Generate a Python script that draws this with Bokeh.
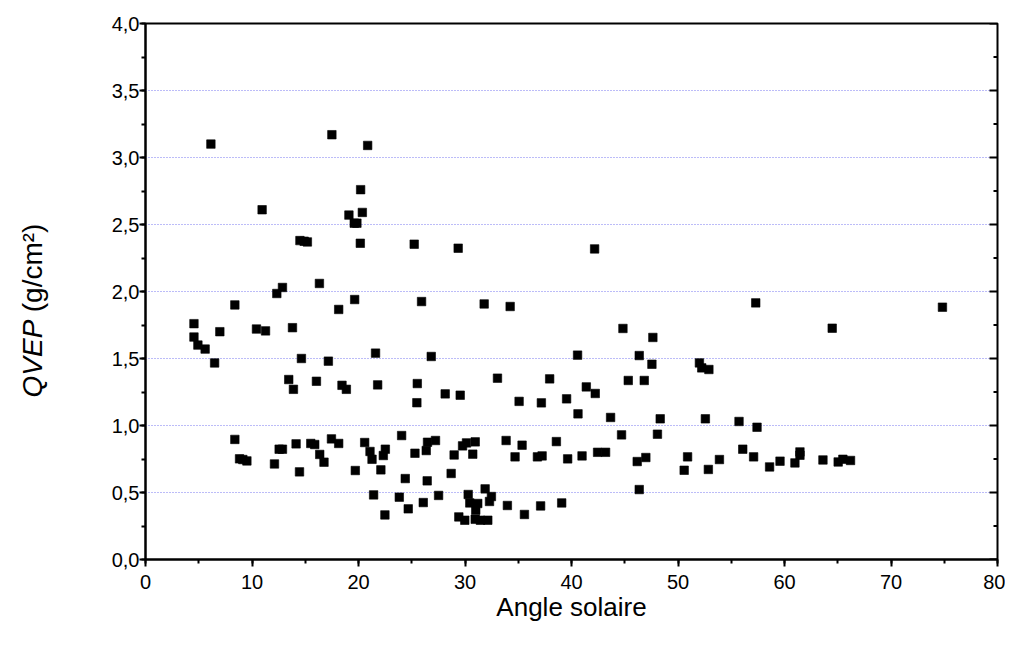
import math
from bokeh.plotting import figure
from bokeh.layouts import row
from bokeh.models import SingleIntervalTicker, CustomJSTickFormatter, ColumnDataSource
from bokeh.core.properties import value
from bokeh.embed import file_html
from bokeh.resources import INLINE

# Angle solaire (degrees)
angle = [
    6.14, 17.5, 20.86, 20.2, 10.95, 19.1, 20.36, 19.6, 19.85, 14.5, 14.9, 15.2, 20.17,
    16.33, 12.86, 12.33, 8.39, 19.64, 18.14, 4.55, 6.98, 10.42, 11.27, 13.8, 4.55,
    4.92, 5.6, 6.49, 14.64, 17.17, 13.45, 13.89, 16.05, 18.45, 18.86, 8.39, 8.83, 9.14,
    9.52, 12.11, 12.55, 12.86, 14.14, 15.52, 15.89, 17.46, 18.14, 16.36, 16.76, 14.46,
    19.7, 20.58,
    25.23, 29.36, 25.92, 31.8, 34.24,
    21.6, 26.83, 40.57, 21.8, 25.52, 25.48, 28.14, 29.55, 33.05, 37.95, 41.39, 35.08,
    37.17, 39.54, 40.61, 21.08, 21.27, 22.52, 22.33, 22.1, 24.05, 25.3, 26.48, 27.23,
    26.36, 24.39, 26.45, 28.7, 28.98, 29.77, 30.14, 30.96, 30.73, 33.86, 35.36, 34.7,
    36.8, 37.24, 38.58, 39.64, 40.99, 21.42, 22.48, 23.83, 24.67, 26.08, 27.52, 30.3,
    31.89, 32.48, 32.3, 30.45, 31.2, 31.01, 29.42, 29.98, 30.96, 31.45, 32.14, 33.98,
    35.58, 37.1, 39.08,
    42.17, 57.3, 74.83, 64.48, 44.83, 47.64, 46.36, 47.55, 45.33, 46.83, 52.01, 52.23,
    52.9, 42.23,
    43.67, 48.33, 52.57, 55.73, 57.42, 44.7, 48.07, 42.45, 43.2, 46.17, 46.98, 46.36,
    50.58, 50.9, 52.85, 53.89, 56.08, 57.1, 58.6, 59.58, 60.98, 61.45, 61.45, 63.61,
    65.04, 65.48, 66.2,
]

# QVEP (g/cm2)
qvep = [
    3.10, 3.17, 3.09, 2.76, 2.61, 2.57, 2.59, 2.51, 2.51, 2.38, 2.375, 2.37, 2.36,
    2.06, 2.03, 1.985, 1.90, 1.94, 1.866, 1.76, 1.70, 1.72, 1.706, 1.73, 1.66,
    1.60, 1.57, 1.467, 1.50, 1.48, 1.343, 1.27, 1.33, 1.30, 1.27, 0.896, 0.751, 0.746,
    0.736, 0.713, 0.823, 0.823, 0.863, 0.866, 0.858, 0.90, 0.866, 0.784, 0.726, 0.654,
    0.664, 0.873,
    2.353, 2.323, 1.925, 1.907, 1.888,
    1.54, 1.515, 1.525, 1.303, 1.313, 1.17, 1.236, 1.226, 1.353, 1.348, 1.288, 1.18,
    1.169, 1.199, 1.087, 0.806, 0.748, 0.823, 0.776, 0.669, 0.925, 0.793, 0.875, 0.888,
    0.813, 0.604, 0.587, 0.642, 0.78, 0.848, 0.87, 0.878, 0.786, 0.888, 0.853, 0.766,
    0.766, 0.773, 0.88, 0.751, 0.773, 0.482, 0.333, 0.465, 0.378, 0.425, 0.478, 0.485,
    0.527, 0.47, 0.433, 0.422, 0.418, 0.368, 0.318, 0.293, 0.30, 0.293, 0.293, 0.403,
    0.336, 0.40, 0.422,
    2.318, 1.915, 1.883, 1.726, 1.724, 1.657, 1.522, 1.457, 1.336, 1.336, 1.467, 1.43,
    1.418, 1.239,
    1.06, 1.05, 1.05, 1.03, 0.987, 0.93, 0.935, 0.80, 0.80, 0.731, 0.761, 0.522,
    0.666, 0.766, 0.672, 0.746, 0.823, 0.766, 0.691, 0.734, 0.721, 0.803, 0.778, 0.743,
    0.728, 0.748, 0.739,
]

# y tick values (major with labels "0,0" ... "4,0", minor in between)
y_major_ticks = [0.0, 0.5, 1.0, 1.5, 2.0, 2.5, 3.0, 3.5, 4.0]
y_minor_ticks = [0.25, 0.75, 1.25, 1.75, 2.25, 2.75, 3.25, 3.75]

x_label = "Angle solaire"
y_label_italic = "QVEP"
y_label_rest = "(g/cm\u00b2)"

FONT = "Liberation Sans"
TOP, FH, BOT = 23, 536, 88
LAB_W = 60
X_END = 80

# ---- main plot ----
p = figure(frame_width=852, frame_height=FH, x_range=(0, X_END), y_range=(0, 4),
           output_backend="svg", toolbar_location=None, title=None,
           min_border_left=145 - LAB_W, min_border_right=8, min_border_top=TOP,
           min_border_bottom=BOT)

p.outline_line_color = "black"
p.outline_line_width = 2
p.background_fill_color = "white"
p.border_fill_color = "white"

xt = SingleIntervalTicker(interval=10, num_minor_ticks=2)
yt = SingleIntervalTicker(interval=0.5, num_minor_ticks=2)

p.xaxis.ticker = xt
p.yaxis.ticker = yt
p.yaxis.formatter = CustomJSTickFormatter(code="return tick.toFixed(1).replace('.', ',');")

for ax in (p.xaxis[0], p.yaxis[0]):
    ax.axis_line_width = 2
    ax.axis_line_color = "black"
    ax.major_tick_line_width = 2
    ax.minor_tick_line_width = 2
    ax.major_tick_out = 6
    ax.major_tick_in = 0
    ax.minor_tick_out = 4
    ax.minor_tick_in = 0
    ax.major_label_text_font = FONT
    ax.major_label_text_font_size = "20px"
    ax.major_label_text_color = "black"

p.xaxis.major_tick_out = 7
p.yaxis.major_label_standoff = 0
p.xaxis.major_label_standoff = 8
p.xaxis.axis_label = x_label
p.xaxis.axis_label_text_font = FONT
p.xaxis.axis_label_text_font_size = "26px"
p.xaxis.axis_label_text_font_style = "normal"
p.xaxis.axis_label_text_color = "black"
p.xaxis.axis_label_standoff = 0

p.xgrid.visible = False
p.ygrid.ticker = yt
p.ygrid.grid_line_color = "#7878f0"
p.ygrid.grid_line_dash = "1 2"
p.ygrid.grid_line_width = 1

# inward ticks on the right-hand frame edge
p.ray(x=[X_END] * len(y_major_ticks), y=y_major_ticks, length=8, length_units="screen",
      angle=math.pi, line_color="black", line_width=2)
p.ray(x=[X_END] * len(y_minor_ticks), y=y_minor_ticks, length=4, length_units="screen",
      angle=math.pi, line_color="black", line_width=2)

src = ColumnDataSource(data=dict(x=angle, y=qvep))
p.scatter("x", "y", source=src, marker="square", size=8.5, fill_color="black",
          line_color="black", line_width=0.6)

# ---- y-axis title strip (mixed italic / upright text), same vertical layout as p ----
lab = figure(frame_width=LAB_W, frame_height=FH, x_range=(0, LAB_W), y_range=(0, 4),
             x_axis_location=None, y_axis_location=None, title=None,
             min_border_left=0, min_border_right=0, min_border_top=TOP, min_border_bottom=BOT,
             output_backend="svg", toolbar_location=None)
lab.grid.visible = False
lab.outline_line_color = None
lab.border_fill_color = "white"
lab.background_fill_color = "white"

# junction between the two parts, in the y units of the main plot
yj = 1.79
lab.text(x=[32], y=[yj], text=[y_label_italic], angle=math.pi / 2,
         text_font=value(FONT), text_font_style="italic", text_font_size="28px",
         text_align="right", text_baseline="middle", text_color="black")
lab.text(x=[32], y=[yj + 0.055], text=[y_label_rest], angle=math.pi / 2,
         text_font=value(FONT), text_font_style="normal", text_font_size="28px",
         text_align="left", text_baseline="middle", text_color="black")

layout = row(lab, p)
open("out.html", "w").write(file_html(layout, INLINE))
